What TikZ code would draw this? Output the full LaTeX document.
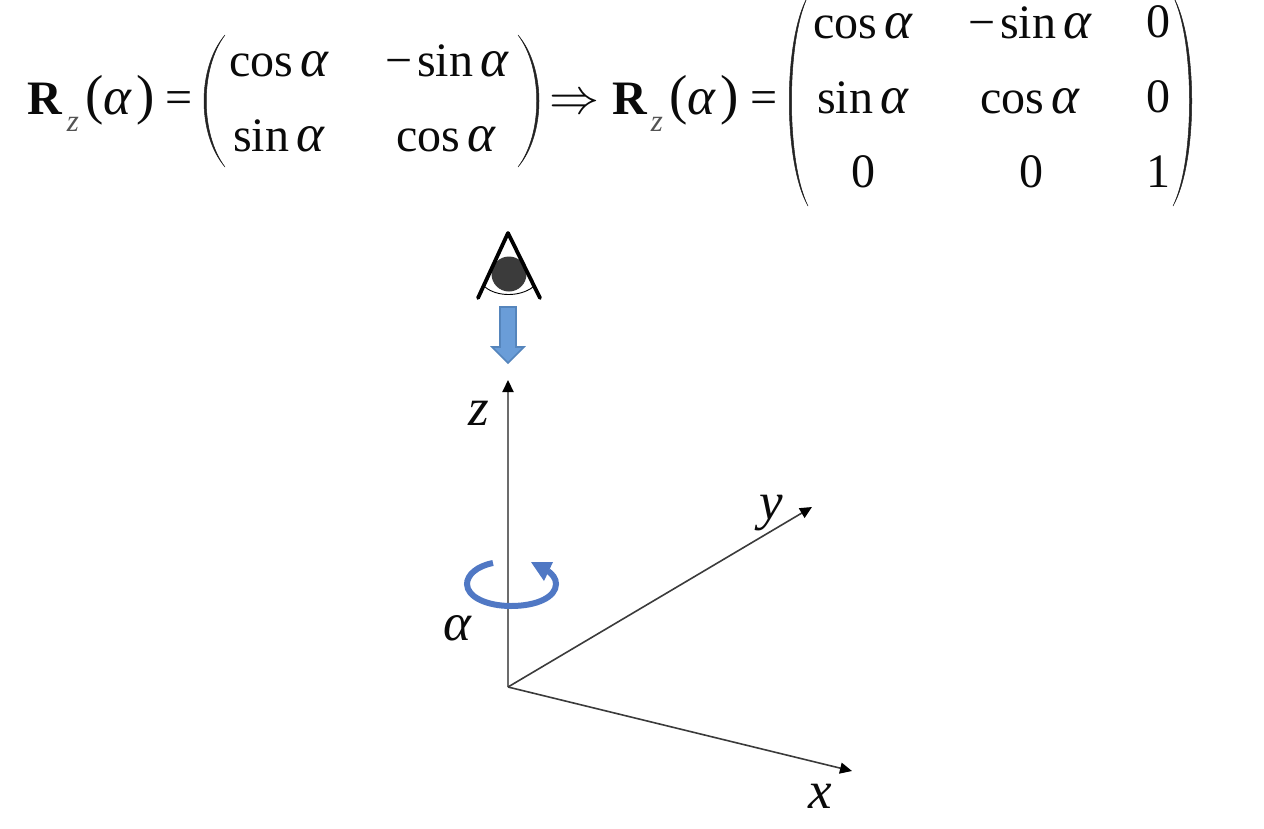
\documentclass[tikz,border=0pt]{standalone}
\usepackage{fontspec}
\usepackage{graphicx}
\setmainfont{Liberation Serif}
\usetikzlibrary{arrows.meta}
\definecolor{inkc}{HTML}{0A0A0A}
\definecolor{rotblue}{HTML}{5078C4}
\definecolor{arrfill}{HTML}{6A9DD8}
\definecolor{arrline}{HTML}{5585BC}
\newcommand{\ang}{{\fontsize{53}{53}\selectfont\textit{α}}}
\newcommand{\cosa}{cos\kern7pt\ang}
\newcommand{\sina}{sin\kern7pt\ang}
\newcommand{\msina}{−\kern5pt sin\kern7pt\ang}
\tikzset{
  x=1pt,y=-1pt,
  eqtext/.style={anchor=base,inner sep=0pt,text=inkc,font=\fontsize{48}{48}\selectfont},
  eqparen/.style={anchor=base,inner sep=0pt,text=inkc,font=\fontsize{55}{55}\selectfont},
  subtext/.style={anchor=base,inner sep=0pt,text=inkc!70,font=\fontsize{31}{31}\selectfont\itshape},
  axislabel/.style={anchor=base,inner sep=0pt,text=inkc,font=\fontsize{53}{53}\selectfont\itshape},
  paren/.style={fill=inkc!90,draw=inkc!90,line width=0.5pt},
  axis/.style={draw=inkc!80,line width=1.6pt,-{Triangle[length=12pt,width=11pt,color=black]}},
  zaxis/.style={draw=inkc!60,line width=2.2pt,-{Triangle[length=12pt,width=11pt,color=black]}},
  eyeline/.style={draw=black,line width=3.8pt,line cap=round,line join=round},
}
\begin{document}
\begin{tikzpicture}
\useasboundingbox (0,0) rectangle (1264,828);
% first equation
\node[eqtext] (r1) at (45,114) {\textbf{R}};
\node[subtext] (z1) at (73,131) {z};
\node[eqparen] (lp1) at (95,113) {(};
\node[eqtext] (a1) at (118,114) {\ang};
\node[eqparen] (rp1) at (146,113) {)};
\node[eqtext] (eq1) at (179,113) {=};
\draw[paren] (225,35) .. controls (197,68) and (197,134) .. (225,167) .. controls (200,134) and (200,68) .. cycle;
\draw[paren] (518,35) .. controls (546,68) and (546,134) .. (518,167) .. controls (543,134) and (543,68) .. cycle;
\node[eqtext] (m11) at (279,76) {\cosa};
\node[eqtext] (m12) at (447,76) {\msina};
\node[eqtext] (m21) at (279,151) {\sina};
\node[eqtext] (m22) at (446,151) {\cosa};
\node[anchor=base,inner sep=0pt,text=inkc] (imp) at (574,113) {\scalebox{5}{$\Rightarrow$}};
% second equation
\node[eqtext] (r2) at (630,114) {\textbf{R}};
\node[subtext] (z2) at (657,131) {z};
\node[eqparen] (lp2) at (679,113) {(};
\node[eqtext] (a2) at (702,114) {\ang};
\node[eqparen] (rp2) at (730,113) {)};
\node[eqtext] (eq2) at (764,113) {=};
\draw[paren] (808,-4) .. controls (783,40) and (783,162) .. (808,206) .. controls (786,162) and (786,40) .. cycle;
\draw[paren] (1173,-4) .. controls (1198,40) and (1198,162) .. (1173,206) .. controls (1195,162) and (1195,40) .. cycle;
\node[eqtext] (n11) at (863,38) {\cosa};
\node[eqtext] (n12) at (1030,38) {\msina};
\node[eqtext] (n13) at (1158,37) {0};
\node[eqtext] (n21) at (863,113) {\sina};
\node[eqtext] (n22) at (1030,113) {\cosa};
\node[eqtext] (n23) at (1158,112) {0};
\node[eqtext] (n31) at (863,187) {0};
\node[eqtext] (n32) at (1031,187) {0};
\node[eqtext] (n33) at (1158,187) {1};
% eye
\draw[draw=black,line width=0.9pt] (485,287) .. controls (497,297) and (520,297) .. (533,287);
\fill[fill=inkc!80] (509,274) circle[radius=17.5];
\draw[eyeline] (478,298) -- (508,233) -- (540,298);
% view arrow
\draw[draw=arrline,fill=arrfill,line width=1.6pt,line join=miter]
  (500,307) -- (516,307) -- (516,347) -- (524,347) -- (508,363) -- (492,347) -- (500,347) -- cycle;
% axes
\coordinate (o) at (508,687);
\coordinate (zend) at (508,380);
\coordinate (yend) at (812,507);
\coordinate (xend) at (852,771);
\draw[zaxis] (o) -- (zend);
\draw[axis] (o) -- (yend);
\draw[axis] (o) -- (xend);
\node[axislabel] (zl) at (479,425) {z};
\node[axislabel] (yl) at (771,519) {y};
\node[axislabel] (xl) at (820,808) {x};
\node[axislabel] (al) at (457,640) {\ang};
% rotation arrow
\draw[draw=rotblue,line width=6pt] (493,563) .. controls (477,566) and (467,575) .. (467,584)
  .. controls (467,597) and (487,606) .. (511,606)
  .. controls (537,606) and (556,597) .. (556,584)
  .. controls (556,578) and (552,574) .. (548,571);
\fill[rotblue] (531,562) -- (553,562) -- (544,581) -- cycle;
\end{tikzpicture}
\end{document}
